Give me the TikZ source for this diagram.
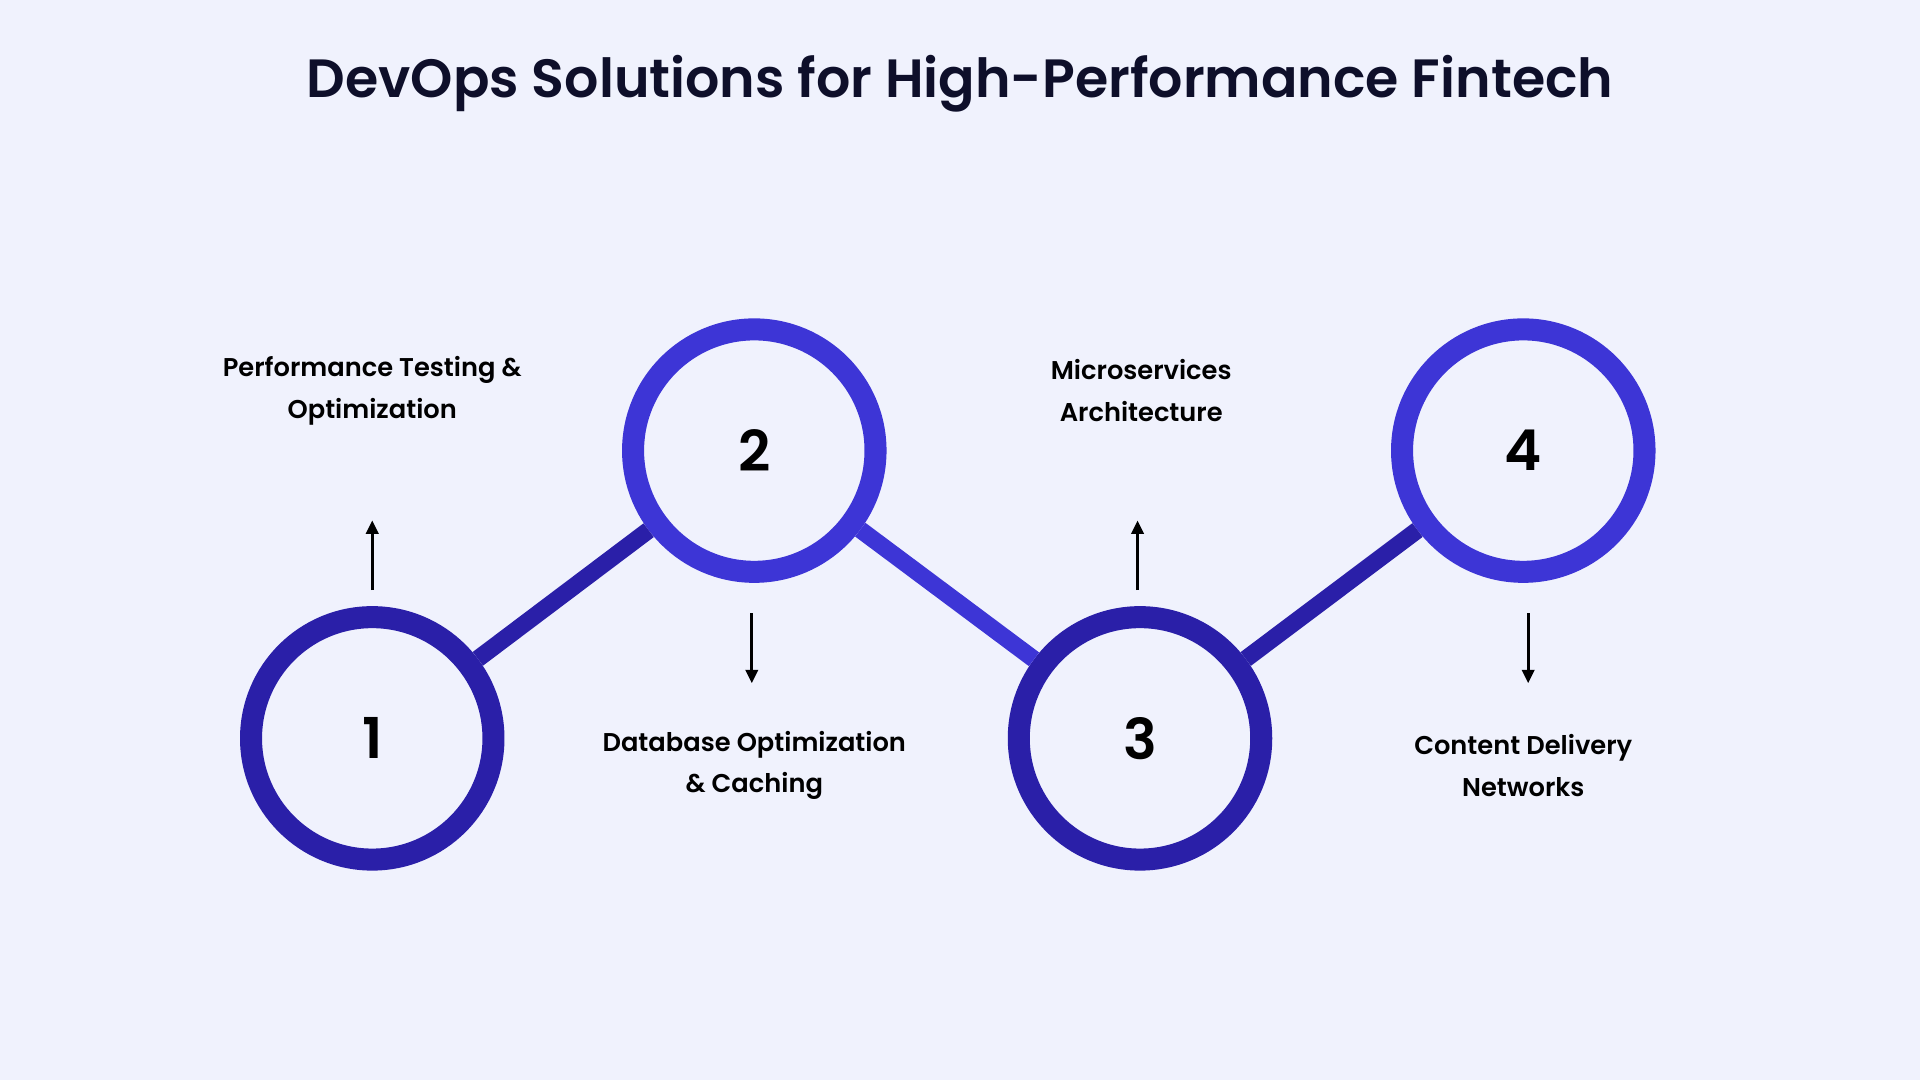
\documentclass[tikz,border=0pt]{standalone}
\usepackage{fontspec}
\setmainfont{Poppins}[BoldFont={* SemiBold}]
\usetikzlibrary{arrows.meta}
\definecolor{bg}{HTML}{F0F2FD}
\definecolor{dk}{HTML}{2A1FA8}
\definecolor{br}{HTML}{3D35D6}
\definecolor{tx}{HTML}{0E0F2A}
\begin{document}
\begin{tikzpicture}[x=1pt,y=-1pt,
 ring/.style={circle,draw=#1,line width=18pt,minimum size=198pt,inner sep=0pt,font=\fontsize{46}{50}\selectfont\bfseries,text=black},
 link/.style={draw=#1,line width=14pt},
 lab/.style={align=center,font=\fontsize{21}{34}\selectfont\bfseries,text=black},
 arr/.style={-{Triangle[length=11pt,width=10pt]},line width=2.5pt}]
\fill[bg] (0,0) rectangle (1568,882);
\node[font=\fontsize{44}{50}\selectfont\bfseries,text=tx] (title) at (784,68) {DevOps Solutions for High-Performance Fintech};
\node[ring=dk] (c1) at (304,603) {1};
\node[ring=br] (c2) at (616,368) {2};
\node[ring=dk] (c3) at (931,603) {3};
\node[ring=br] (c4) at (1244,368) {4};
\draw[link=dk] (c1) -- (c2);
\draw[link=br] (c2) -- (c3);
\draw[link=dk] (c3) -- (c4);
\node[lab] (l1) at (304,319) {Performance Testing \&\\Optimization};
\node[lab] (l2) at (616,625) {Database Optimization\\\& Caching};
\node[lab] (l3) at (932,319) {Microservices\\Architecture};
\node[lab] (l4) at (1244,625) {Content Delivery\\Networks};
\coordinate (a1s) at (304,482); \coordinate (a1e) at (304,425);
\coordinate (a2s) at (614,501); \coordinate (a2e) at (614,558);
\coordinate (a3s) at (929,482); \coordinate (a3e) at (929,425);
\coordinate (a4s) at (1248,501); \coordinate (a4e) at (1248,558);
\draw[arr] (a1s) -- (a1e);
\draw[arr] (a2s) -- (a2e);
\draw[arr] (a3s) -- (a3e);
\draw[arr] (a4s) -- (a4e);
\end{tikzpicture}
\end{document}
